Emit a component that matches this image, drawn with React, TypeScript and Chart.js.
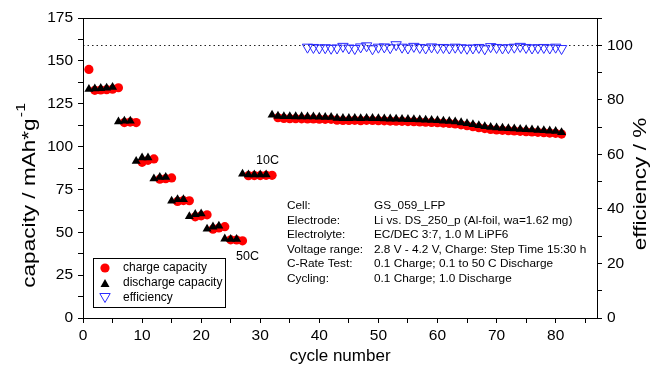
import { useEffect, useRef } from 'react';
import { Chart, registerables } from 'chart.js';

Chart.register(...registerables);

const FONT = '"Liberation Sans", Arial, Helvetica, sans-serif';

// cycle 1..81
const chargeCapacity: number[] = [
  145, 132.8, 133, 133.2, 133.5, 134.3,
  114, 114.3, 114,
  90.8, 92, 92.8,
  81, 81.3, 81.7,
  68, 68.5, 68.4,
  59, 59.6, 60.2,
  51.8, 52.5, 53.3,
  45.6, 45.5, 45,
  83, 83.1, 83.1, 83.2, 83.2,
  116.8, 116.4, 116.3, 116.3, 116.2, 116.1, 116.1, 116.0, 115.9, 115.9,
  115.4, 115.2, 115.2, 115.3, 115.1, 115.3, 115.2, 115.1, 115.0, 114.9,
  114.8, 114.7, 114.6, 114.5, 114.4, 114.2, 114.1, 113.9, 113.7, 113.5,
  113.2, 112.7, 112.2, 111.6, 111.0, 110.5, 110.0, 109.7, 109.5, 109.3,
  109.1, 108.9, 108.7, 108.5, 108.3, 108.1, 107.9, 107.7, 107.3,
];

// cycle 1..81
const dischargeCapacity: number[] = [
  133.5, 133.8, 134, 134.2, 134.6,
  114.5, 115, 115,
  91.5, 93.5, 93.5,
  81.3, 82.2, 82.2,
  68.3, 69.2, 69.2,
  59.2, 60.5, 60.8,
  52, 53.2, 53.7,
  46.2, 46, 46,
  84, 83.6, 83.6, 83.6, 83.6,
  118.5, 117.8, 117.6, 117.6, 117.5, 117.5, 117.4, 117.4, 117.3, 117.2,
  117.2, 116.6, 116.5, 116.5, 116.6, 116.4, 116.6, 116.5, 116.4, 116.3,
  116.2, 116.1, 116.0, 115.9, 115.8, 115.7, 115.5, 115.4, 115.2, 115.0,
  114.8, 114.5, 114.0, 113.5, 112.9, 112.3, 111.8, 111.3, 111.0, 110.8,
  110.6, 110.4, 110.2, 110.0, 109.8, 109.6, 109.4, 109.2, 109.0, 108.3,
];

const efficiencyFirstCycle = 38;
// cycle 38..81
const efficiency: number[] = [
  99.3, 99.2, 99.0, 99.1, 98.9, 99.0, 99.6, 99.0, 98.8, 99.4,
  99.8, 98.7, 99.3, 99.4, 99.1, 100.2, 99.3, 99.0, 99.6, 99.2,
  99.0, 99.4, 99.1, 99.2, 99.0, 99.3, 99.1, 98.9, 99.0, 99.2,
  98.7, 99.5, 99.2, 99.0, 99.1, 99.3, 99.6, 99.2, 99.0, 99.1,
  99.2, 99.0, 99.3, 98.8,
];

const xTicks = [0, 5, 10, 15, 20, 25, 30, 35, 40, 45, 50, 55, 60, 65, 70, 75, 80, 85];

const legendItems = ['charge capacity', 'discharge capacity', 'efficiency'];

const infoLabels = ['Cell:', 'Electrode:', 'Electrolyte:', 'Voltage range:', 'C-Rate Test:', 'Cycling:'];
const infoValues = [
  'GS_059_LFP',
  'Li vs. DS_250_p (Al-foil, wa=1.62 mg)',
  'EC/DEC 3:7, 1.0 M LiPF6',
  '2.8 V - 4.2 V, Charge: Step Time 15:30 h',
  '0.1 Charge; 0.1 to 50 C Discharge',
  '0.1 Charge; 1.0 Discharge',
];

const RED = '#ff0000';
const BLUE = '#2a2aff';
const STRETCH = 1.22;

const decorPlugin = {
  id: 'decor',
  beforeDatasetsDraw(chart: any) {
    const { ctx, chartArea } = chart;
    const y2 = chart.scales.y2;
    const yy = Math.round(y2.getPixelForValue(100)) + 0.5;
    ctx.save();
    ctx.strokeStyle = '#222';
    ctx.lineWidth = 1;
    ctx.setLineDash([1.5, 3]);
    ctx.beginPath();
    ctx.moveTo(chartArea.left, yy);
    ctx.lineTo(chartArea.right, yy);
    ctx.stroke();
    ctx.restore();
  },
  afterDraw(chart: any) {
    const { ctx, chartArea } = chart;
    ctx.save();
    // frame
    ctx.strokeStyle = '#000';
    ctx.lineWidth = 1;
    ctx.strokeRect(
      Math.round(chartArea.left) + 0.5,
      Math.round(chartArea.top) + 0.5,
      Math.round(chartArea.right - chartArea.left),
      Math.round(chartArea.bottom - chartArea.top)
    );

    // axis titles
    ctx.fillStyle = '#000';
    ctx.font = `17px ${FONT}`;
    ctx.textAlign = 'center';
    ctx.textBaseline = 'middle';
    ctx.fillText('cycle number', (chartArea.left + chartArea.right) / 2, 356);

    // left title
    ctx.save();
    ctx.translate(30, 196);
    ctx.rotate(-Math.PI / 2);
    ctx.scale(STRETCH, 1);
    const main = 'capacity / mAh*g';
    ctx.font = `18.5px ${FONT}`;
    const w1 = ctx.measureText(main).width;
    ctx.font = `13px ${FONT}`;
    const w2 = ctx.measureText('-1').width;
    const total = w1 + w2;
    ctx.textAlign = 'left';
    ctx.font = `18.5px ${FONT}`;
    ctx.fillText(main, -total / 2, 0);
    ctx.font = `13px ${FONT}`;
    ctx.fillText('-1', -total / 2 + w1 + 1, -9);
    ctx.restore();

    // right title
    ctx.save();
    ctx.translate(641, 184);
    ctx.rotate(-Math.PI / 2);
    ctx.scale(STRETCH, 1);
    ctx.font = `18.5px ${FONT}`;
    ctx.textAlign = 'center';
    ctx.fillText('efficiency / %', 0, 0);
    ctx.restore();

    // legend
    ctx.strokeRect(93.5, 258.5, 132, 49);
    const rows = [268, 283, 298];
    ctx.font = `12px ${FONT}`;
    ctx.textAlign = 'left';
    ctx.textBaseline = 'middle';
    legendItems.forEach((t, i) => ctx.fillText(t, 123, rows[i]));
    // markers
    ctx.fillStyle = RED;
    ctx.beginPath();
    ctx.arc(105, rows[0], 4.6, 0, Math.PI * 2);
    ctx.fill();
    ctx.fillStyle = '#000';
    ctx.beginPath();
    const r = 5.2;
    ctx.moveTo(105, rows[1] + r / 4 - r);
    ctx.lineTo(105 + 0.866 * r, rows[1] + r / 4 + r / 2);
    ctx.lineTo(105 - 0.866 * r, rows[1] + r / 4 + r / 2);
    ctx.closePath();
    ctx.fill();
    ctx.strokeStyle = BLUE;
    ctx.beginPath();
    const r2 = 6;
    const cy = rows[2] - r2 / 4;
    ctx.moveTo(105, cy + r2);
    ctx.lineTo(105 + 0.866 * r2, cy - r2 / 2);
    ctx.lineTo(105 - 0.866 * r2, cy - r2 / 2);
    ctx.closePath();
    ctx.stroke();

    // annotations
    ctx.fillStyle = '#000';
    ctx.font = `12.5px ${FONT}`;
    ctx.fillText('10C', 256, 161);
    ctx.fillText('50C', 236, 257);

    // info block
    ctx.font = `11.8px ${FONT}`;
    infoLabels.forEach((t, i) => ctx.fillText(t, 287, 206 + i * 14.5));
    infoValues.forEach((t, i) => ctx.fillText(t, 374, 206 + i * 14.5));
    ctx.restore();
  },
};

export default function App() {
  const ref = useRef<HTMLCanvasElement>(null);
  useEffect(() => {
    const tickFont = { family: FONT, size: 15.5 };
    const gridCommon = {
      drawOnChartArea: false,
      drawTicks: true,
      tickLength: 5,
      tickColor: '#000',
      color: '#000',
    };
    const chart = new Chart(ref.current!, {
      type: 'scatter',
      data: {
        datasets: [
          {
            label: 'discharge capacity',
            data: dischargeCapacity.map((v, i) => ({ x: i + 1, y: v })),
            pointStyle: 'triangle',
            pointRadius: 5.2,
            backgroundColor: '#000',
            borderColor: '#000',
            borderWidth: 0,
            yAxisID: 'y',
            order: 0,
          },
          {
            label: 'charge capacity',
            data: chargeCapacity.map((v, i) => ({ x: i + 1, y: v })),
            pointStyle: 'circle',
            pointRadius: 4.6,
            backgroundColor: RED,
            borderColor: RED,
            borderWidth: 0,
            yAxisID: 'y',
            order: 1,
          },
          {
            label: 'efficiency',
            data: efficiency.map((v, i) => ({ x: efficiencyFirstCycle + i, y: v })),
            pointStyle: 'triangle',
            rotation: 180,
            pointRadius: 6,
            backgroundColor: 'rgba(0,0,0,0)',
            borderColor: BLUE,
            borderWidth: 1,
            yAxisID: 'y2',
            order: 2,
          },
        ],
      },
      options: {
        responsive: false,
        animation: false,
        layout: { padding: { top: 18, left: 0, right: 0, bottom: 0 } },
        plugins: { legend: { display: false }, tooltip: { enabled: false } },
        scales: {
          x: {
            type: 'linear',
            min: 0,
            max: 87,
            afterBuildTicks: (s: any) => {
              s.ticks = xTicks.map((v) => ({ value: v }));
            },
            afterFit: (s: any) => {
              s.height = 54;
            },
            ticks: {
              autoSkip: false,
              maxRotation: 0,
              padding: 3,
              color: '#000',
              font: tickFont,
              callback: (v: any) => (Number(v) % 10 === 0 ? String(v) : ''),
            },
            grid: gridCommon,
            border: { display: true, color: '#000', width: 1 },
          },
          y: {
            type: 'linear',
            position: 'left',
            min: 0,
            max: 175,
            afterBuildTicks: (s: any) => {
              const t = [];
              for (let v = 0; v <= 175; v += 12.5) t.push({ value: v });
              s.ticks = t;
            },
            afterFit: (s: any) => {
              s.width = 83;
            },
            ticks: {
              autoSkip: false,
              padding: 5,
              color: '#000',
              font: tickFont,
              callback: (v: any) => (Number(v) % 25 === 0 ? String(v) : ''),
            },
            grid: gridCommon,
            border: { display: true, color: '#000', width: 1 },
          },
          y2: {
            type: 'linear',
            position: 'right',
            min: 0,
            max: 110,
            afterBuildTicks: (s: any) => {
              const t = [];
              for (let v = 0; v <= 110; v += 10) t.push({ value: v });
              s.ticks = t;
            },
            afterFit: (s: any) => {
              s.width = 57;
            },
            ticks: {
              autoSkip: false,
              padding: 5,
              color: '#000',
              font: tickFont,
              callback: (v: any) => (Number(v) % 20 === 0 ? String(v) : ''),
            },
            grid: gridCommon,
            border: { display: true, color: '#000', width: 1 },
          },
        },
      },
      plugins: [decorPlugin],
    } as any);
    return () => chart.destroy();
  }, []);
  return (
    <div style={{ position: 'absolute', left: 0, top: 0, width: 654, height: 372, background: '#fff' }}>
      <canvas ref={ref} width={654} height={372} style={{ display: 'block' }} />
    </div>
  );
}
